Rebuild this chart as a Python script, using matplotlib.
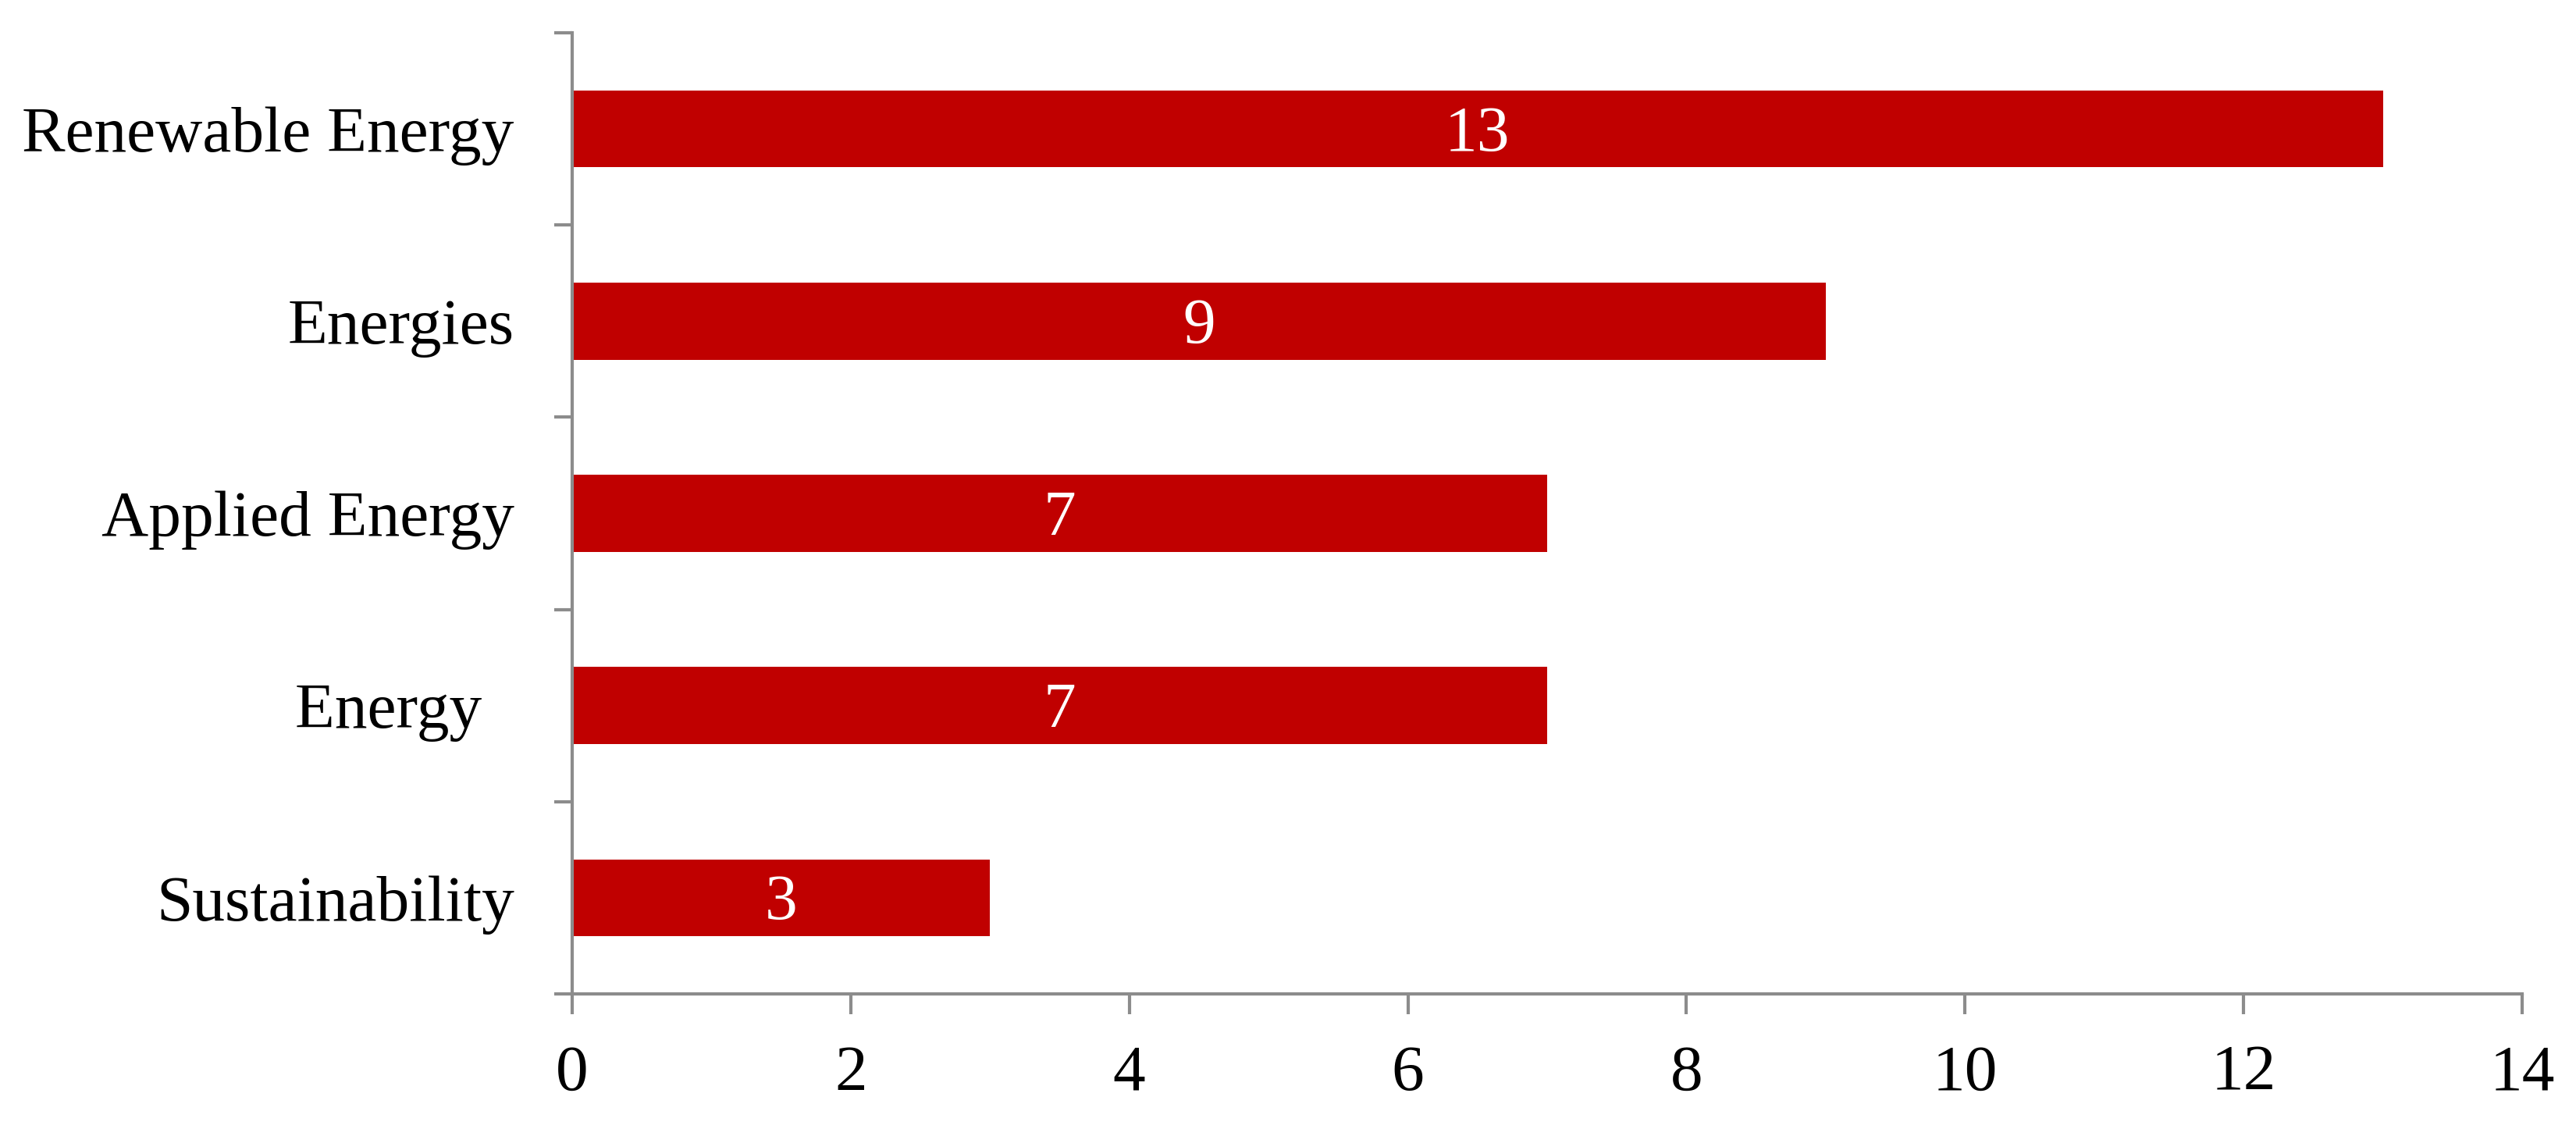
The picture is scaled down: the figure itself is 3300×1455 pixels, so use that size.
import matplotlib.pyplot as plt
import numpy as np

# Daten
zeitschriften = ['Sustainability', 'Energy  ', 'Applied Energy', 'Energies', 'Renewable Energy']
anzahl = [3, 7, 7, 9, 13]
x_ticks = [0, 2, 4, 6, 8, 10, 12, 14]

plt.rcParams['font.family'] = ['Liberation Serif', 'DejaVu Serif']
grau = '#8c8c8c'
schrift = 20

fig = plt.figure(figsize=(11, 4.85), dpi=300)
ax = fig.add_axes([0.2221, 0.1251, 0.9791 - 0.2221, 0.9711 - 0.1251])

pos = np.arange(len(zeitschriften))
ax.barh(pos, anzahl, height=0.4, color='#C00000', zorder=2)

# Werte in die Balken schreiben (Ziffern mittig im Balken)
for p, wert in zip(pos, anzahl):
    ax.annotate(str(wert), xy=(wert / 2, p), xytext=(0, -6.6),
                textcoords='offset points', ha='center', va='baseline',
                color='white', fontsize=schrift)

ax.set_xlim(0, 14)
ax.set_ylim(-0.5, len(zeitschriften) - 0.5)
ax.set_xticks(x_ticks)
ax.set_xticklabels([str(t) for t in x_ticks])

# Striche an den Grenzen, Beschriftung in der Mitte
ax.set_yticks(np.arange(len(zeitschriften) + 1) - 0.5)
ax.set_yticklabels([])
ax.set_yticks(pos, minor=True)
ax.set_yticklabels(zeitschriften, minor=True)

for s in ['top', 'right']:
    ax.spines[s].set_visible(False)
for s in ['left', 'bottom']:
    ax.spines[s].set_color(grau)
    ax.spines[s].set_linewidth(1.0)

ax.tick_params(axis='x', which='major', direction='out', length=6.2, width=1.0,
               color=grau, labelsize=schrift, pad=9.5)
ax.tick_params(axis='y', which='major', direction='out', length=5.6, width=1.0,
               color=grau)
ax.tick_params(axis='y', which='minor', length=0, labelsize=schrift, pad=17.8)

fig.savefig('out.png', dpi=300, facecolor='white')
